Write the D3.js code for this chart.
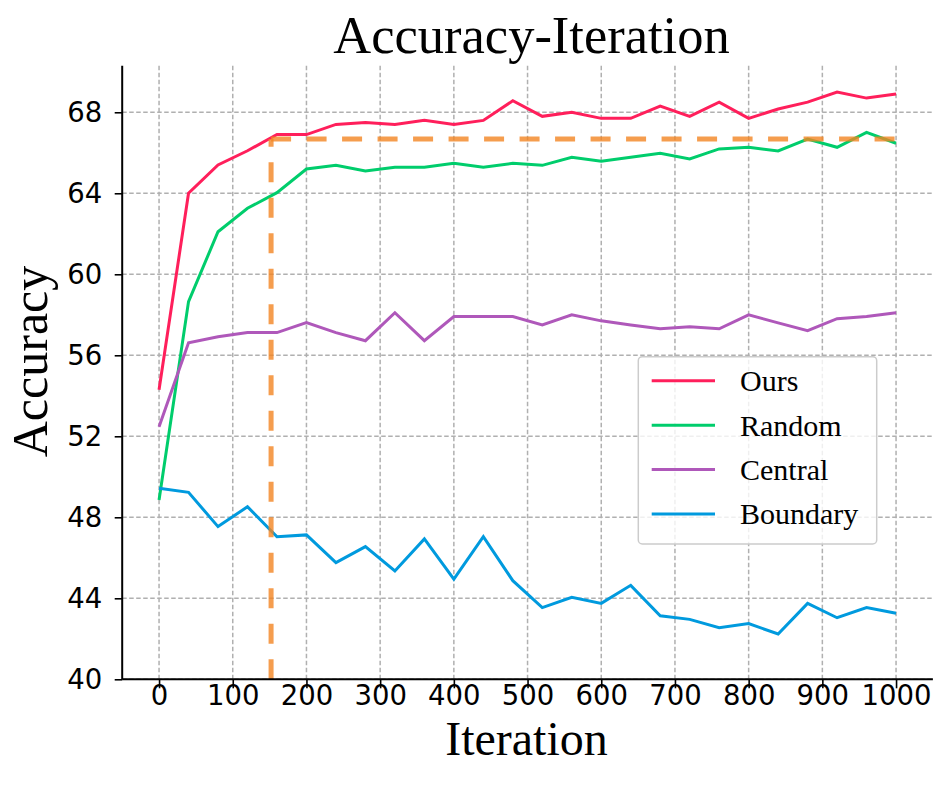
<!DOCTYPE html>
<html>
<head>
<meta charset="utf-8">
<script src="https://cdn.jsdelivr.net/npm/d3@7"></script>
<style>
  html, body { margin: 0; padding: 0; background: #fff; }
  svg { display: block; }
</style>
</head>
<body>
<svg id="chart" width="952" height="792"></svg>
<script>
// ---- data ----
const iterations = [0,40,80,120,160,200,240,280,320,360,400,440,480,520,560,600,640,680,720,760,800,840,880,920,960,1000];
const ours     = [54.3,64.0,65.4,66.1,66.9,66.9,67.4,67.5,67.4,67.6,67.4,67.6,68.57,67.8,68.0,67.7,67.7,68.3,67.8,68.5,67.7,68.16,68.5,69.0,68.7,68.9];
const random   = [48.85,58.65,62.1,63.26,64.03,65.2,65.38,65.1,65.28,65.28,65.48,65.28,65.48,65.38,65.78,65.58,65.78,65.98,65.7,66.19,66.27,66.09,66.68,66.27,67.01,66.47];
const central  = [52.47,56.62,56.92,57.12,57.12,57.61,57.12,56.72,58.1,56.72,57.91,57.91,57.91,57.5,58.0,57.7,57.5,57.31,57.41,57.31,58.0,57.6,57.22,57.81,57.91,58.1];
const boundary = [49.43,49.23,47.54,48.52,47.04,47.13,45.76,46.55,45.35,46.93,44.95,47.04,44.87,43.54,44.05,43.75,44.64,43.14,42.96,42.55,42.75,42.24,43.75,43.04,43.54,43.26];
const seriesNames = ["Ours","Random","Central","Boundary"];
const xTicks = [0,100,200,300,400,500,600,700,800,900,1000];
const yTicks = [40,44,48,52,56,60,64,68];
const refX = 152;      // vertical reference line (iteration)
const refY = 66.68;    // horizontal reference line (accuracy)
const refXEnd = 1000;

// ---- layout ----
const colors = ["#ff1f5b","#00cd6c","#af58ba","#009ade"];
const L = 122.2, R = 932.9, T = 65.7, B = 679.3;
const svg = d3.select("#chart");

const x = d3.scaleLinear().domain([-50, 1050]).range([L, R]);
const y = d3.scaleLinear().domain([40, 70.3]).range([B, T]);

// grid
const grid = svg.append("g");
grid.selectAll("line.vg").data(xTicks).join("line")
  .attr("x1", d => x(d)).attr("x2", d => x(d))
  .attr("y1", T).attr("y2", B)
  .attr("stroke", "#b0b0b0").attr("stroke-width", 1.5)
  .attr("stroke-dasharray", "4.5,2.5");
grid.selectAll("line.hg").data(yTicks).join("line")
  .attr("x1", L).attr("x2", R)
  .attr("y1", d => y(d)).attr("y2", d => y(d))
  .attr("stroke", "#b0b0b0").attr("stroke-width", 1.5)
  .attr("stroke-dasharray", "4.5,2.5");

// series
const allSeries = [ours, random, central, boundary];
const line = d3.line().x((d, i) => x(iterations[i])).y(d => y(d));
allSeries.forEach((s, k) => {
  svg.append("path").datum(s)
    .attr("d", line)
    .attr("fill", "none")
    .attr("stroke", colors[k])
    .attr("stroke-width", 3)
    .attr("stroke-linejoin", "miter");
});

// reference dashed lines
const refG = svg.append("g").attr("stroke", "#f28522").attr("stroke-opacity", 0.8)
  .attr("stroke-width", 5).attr("stroke-dasharray", "20,15.5").attr("fill", "none");
refG.append("path").attr("d", d3.line()([[x(refX), y(40)], [x(refX), y(refY)]]));
refG.append("path").attr("d", d3.line()([[x(refX), y(refY)], [x(refXEnd), y(refY)]]));

// axes
const xAxis = d3.axisBottom(x).tickValues(xTicks).tickSize(9).tickPadding(-2).tickFormat(d3.format("d"));
const gx = svg.append("g").attr("transform", `translate(0,${B})`).call(xAxis);
gx.select(".domain").attr("d", `M${L},0H${R}`).attr("stroke", "#000").attr("stroke-width", 2);
gx.selectAll(".tick line").attr("stroke", "#000").attr("stroke-width", 1.6);
gx.selectAll(".tick text").attr("y", 26).attr("dy", 0)
  .attr("font-family", "DejaVu Sans").attr("font-size", 27.5).attr("fill", "#000");

const yAxis = d3.axisLeft(y).tickValues(yTicks).tickSize(7.5).tickPadding(12.5).tickFormat(d3.format("d"));
const gy = svg.append("g").attr("transform", `translate(${L},0)`).call(yAxis);
gy.select(".domain").attr("d", `M0,${T}V${B}`).attr("stroke", "#000").attr("stroke-width", 2);
gy.selectAll(".tick line").attr("stroke", "#000").attr("stroke-width", 1.6);
gy.selectAll(".tick text").attr("dy", "0.33em")
  .attr("font-family", "DejaVu Sans").attr("font-size", 27.5).attr("fill", "#000");
svg.selectAll(".domain").attr("fill", "none");

// titles
svg.append("text").attr("x", 531.5).attr("y", 53)
  .attr("text-anchor", "middle").attr("font-family", "Liberation Serif, Times New Roman, serif")
  .attr("font-size", 52.5).attr("fill", "#000").text("Accuracy-Iteration");
svg.append("text").attr("x", 526.5).attr("y", 755)
  .attr("text-anchor", "middle").attr("font-family", "Liberation Serif, Times New Roman, serif")
  .attr("font-size", 48).attr("fill", "#000").text("Iteration");
svg.append("text").attr("transform", "translate(47,361.5) rotate(-90)")
  .attr("text-anchor", "middle").attr("font-family", "Liberation Serif, Times New Roman, serif")
  .attr("font-size", 50).attr("fill", "#000").text("Accuracy");

// legend
const lg = svg.append("g");
lg.append("rect").attr("x", 638.3).attr("y", 356.7).attr("width", 238.4).attr("height", 187.3)
  .attr("rx", 4).attr("fill", "#fff").attr("fill-opacity", 0.8)
  .attr("stroke", "#cccccc").attr("stroke-width", 1.5);
seriesNames.forEach((name, k) => {
  const yy = 380.7 + k * 44.43;
  lg.append("line").attr("x1", 651.7).attr("x2", 715).attr("y1", yy).attr("y2", yy)
    .attr("stroke", colors[k]).attr("stroke-width", 3);
  lg.append("text").attr("x", 740).attr("y", yy + 10.5)
    .attr("font-family", "Liberation Serif, Times New Roman, serif")
    .attr("font-size", 30).attr("fill", "#000").text(name);
});
</script>
</body>
</html>
